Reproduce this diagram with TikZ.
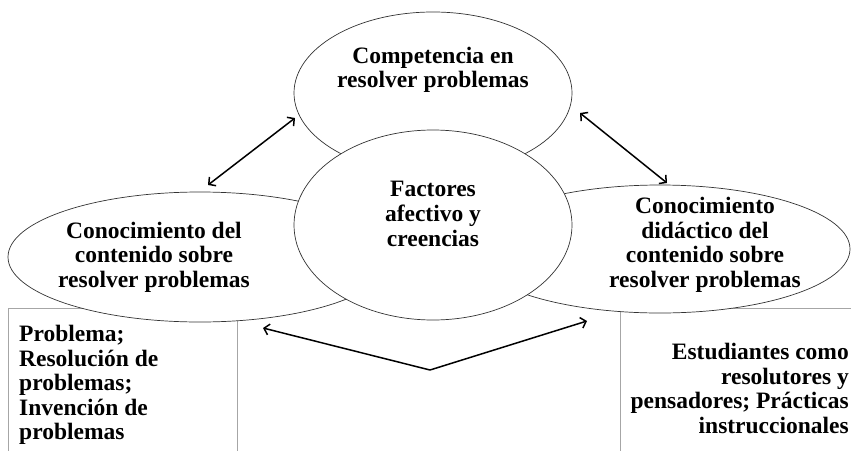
\documentclass[tikz,border=0pt]{standalone}
\usepackage{fontspec}
\setmainfont{Liberation Serif}
\usepackage{tikz}
\usetikzlibrary{arrows.meta}
\usetikzlibrary{shapes.geometric}

\tikzset{
ell/.style={ellipse,draw=black!80,line width=0.7pt,fill=white,inner sep=0pt},
txt/.style={font=\bfseries\fontsize{23.5}{24.6}\selectfont,inner sep=0pt},
boxline/.style={draw=black!35,line width=0.7pt},
link/.style={<->,line width=1.5pt}
}

\begin{document}
\begin{tikzpicture}[line cap=round,line join=round,>={Straight Barb[length=5pt,width=11pt]},x=1pt,y=-1pt]
\useasboundingbox (0,0) rectangle (851,450);
%
\draw[boxline] (8,470)--(8,308)--(237,308)--(237,470);
\draw[boxline] (620,470)--(620,308)--(870,308);
%
\node[ell,minimum width=278pt,minimum height=162pt] (comp) at (433,93) {};
\node[ell,minimum width=384pt,minimum height=130pt] (conc) at (200,257) {};
\node[ell,minimum width=380pt,minimum height=128pt] (didac) at (660,249) {};
\node[ell,minimum width=278pt,minimum height=190pt] (fact) at (433,225) {};
%
\node[txt,align=center] (compT) at (433,70) {Competencia en\\resolver problemas};
\node[txt,align=center] (concT) at (154,257) {Conocimiento del\\contenido sobre\\resolver problemas};
\node[txt,align=center] (didacT) at (705,245) {Conocimiento\\did\'actico del\\contenido sobre\\resolver problemas};
\node[txt,align=center] (factT) at (433,214) {Factores\\afectivo y\\creencias};
\node[txt,align=left,anchor=north west] (probT) at (19,325) {Problema;\\Resoluci\'on de\\problemas;\\Invenci\'on de\\problemas};
\node[txt,align=right,anchor=north east] (estT) at (849,343) {Estudiantes como\\resolutores y\\pensadores; Pr\'acticas\\instruccionales};
%
\coordinate (c1) at (208,185);
\coordinate (c2) at (295,118);
\coordinate (c3) at (580,113);
\coordinate (c4) at (667,183);
\coordinate (c5) at (263,328);
\coordinate (c6) at (430,370);
\coordinate (c7) at (587,321);
\draw[link] (c1)--(c2);
\draw[link] (c3)--(c4);
\draw[link] (c5)--(c6)--(c7);
\end{tikzpicture}
\end{document}
